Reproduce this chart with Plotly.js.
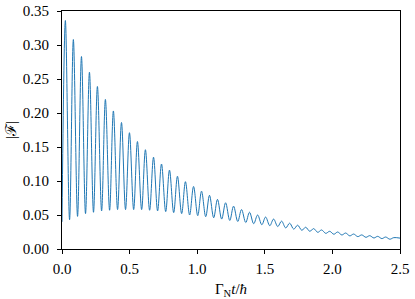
<!DOCTYPE html>
<html>
<head>
<meta charset="utf-8">
<script src="https://cdn.plot.ly/plotly-3.0.1.min.js"></script>
<style>
  html, body { margin: 0; padding: 0; background: #fff; }
  #chart { width: 415px; height: 299px; }
</style>
</head>
<body>
<div id="chart"></div>
<script>
// values: local maxima and minima of |F|
var startT = 0.0, startF = 0.040;

var peakT = [0.025,0.084,0.144,0.203,0.262,0.321,0.380,0.440,0.499,0.558,
             0.617,0.677,0.736,0.795,0.854,0.913,0.973,1.032,1.091,1.150,
             1.210,1.269,1.328,1.387,1.447,1.506,1.565,1.624,1.684,1.743,
             1.802,1.861,1.920,1.980,2.039,2.098,2.157,2.217,2.276,2.335,
             2.394,2.454];
var peakF = [0.336,0.308,0.283,0.260,0.239,0.220,0.203,0.186,0.171,0.158,
             0.146,0.135,0.125,0.116,0.107,0.099,0.092,0.085,0.079,0.073,
             0.068,0.063,0.058,0.054,0.050,0.047,0.044,0.041,0.038,0.035,
             0.032,0.030,0.028,0.026,0.025,0.0235,0.022,0.0207,0.0196,0.0186,
             0.0176,0.0167];

var troughT = [0.056,0.115,0.174,0.233,0.293,0.352,0.411,0.470,0.530,0.589,
               0.648,0.707,0.767,0.826,0.885,0.944,1.004,1.063,1.122,1.181,
               1.241,1.300,1.359,1.418,1.478,1.537,1.596,1.655,1.714,1.774,
               1.833,1.892,1.951,2.011,2.070,2.129,2.188,2.248,2.307,2.366,
               2.425];
var troughF = [0.043,0.048,0.052,0.054,0.056,0.057,0.058,0.058,0.058,0.058,
               0.057,0.056,0.055,0.0535,0.052,0.050,0.049,0.0475,0.046,0.044,
               0.042,0.0405,0.039,0.0372,0.0357,0.0343,0.033,0.031,0.0292,0.0275,
               0.026,0.0245,0.023,0.0217,0.0206,0.0193,0.0182,0.0172,0.0162,0.0153,
               0.0144];

var endT = 2.5, endF = 0.016;

var xTicks = [0, 0.5, 1.0, 1.5, 2.0, 2.5];
var yTicks = [0, 0.05, 0.10, 0.15, 0.20, 0.25, 0.30, 0.35];

// interleave maxima and minima into one curve
var xs = [startT], ys = [startF];
for (var i = 0; i < peakT.length; i++) {
  xs.push(peakT[i]); ys.push(peakF[i]);
  if (i < troughT.length) { xs.push(troughT[i]); ys.push(troughF[i]); }
}
xs.push(endT); ys.push(endF);

var trace = {
  x: xs,
  y: ys,
  mode: 'lines',
  line: {color: '#1f77b4', width: 1, shape: 'spline', smoothing: 1},
  hoverinfo: 'none'
};

var axisFont = {family: 'Liberation Serif, serif', size: 15, color: '#000'};

var layout = {
  width: 415,
  height: 299,
  margin: {l: 62, r: 15, t: 11, b: 50},
  paper_bgcolor: '#fff',
  plot_bgcolor: '#fff',
  showlegend: false,
  font: axisFont,
  xaxis: {
    range: [0, 2.5],
    tickvals: xTicks,
    tickformat: '.1f',
    ticks: 'outside',
    ticklen: 4,
    tickcolor: '#000',
    ticklabelstandoff: 2,
    showgrid: false,
    zeroline: false,
    showline: true,
    mirror: true,
    linecolor: '#000',
    linewidth: 1,
    tickfont: axisFont,
    title: {text: 'Γ<sub>N</sub><i>t</i>/<i>ħ</i>', font: axisFont, standoff: 8}
  },
  yaxis: {
    range: [0, 0.35],
    tickvals: yTicks,
    tickformat: '.2f',
    ticks: 'outside',
    ticklen: 4,
    tickcolor: '#000',
    ticklabelstandoff: 5,
    showgrid: false,
    zeroline: false,
    showline: true,
    mirror: true,
    linecolor: '#000',
    linewidth: 1,
    tickfont: axisFont,
    title: {text: '|ℱ|', font: axisFont, standoff: 2}
  }
};

Plotly.newPlot('chart', [trace], layout, {displayModeBar: false, staticPlot: true});
</script>
</body>
</html>
